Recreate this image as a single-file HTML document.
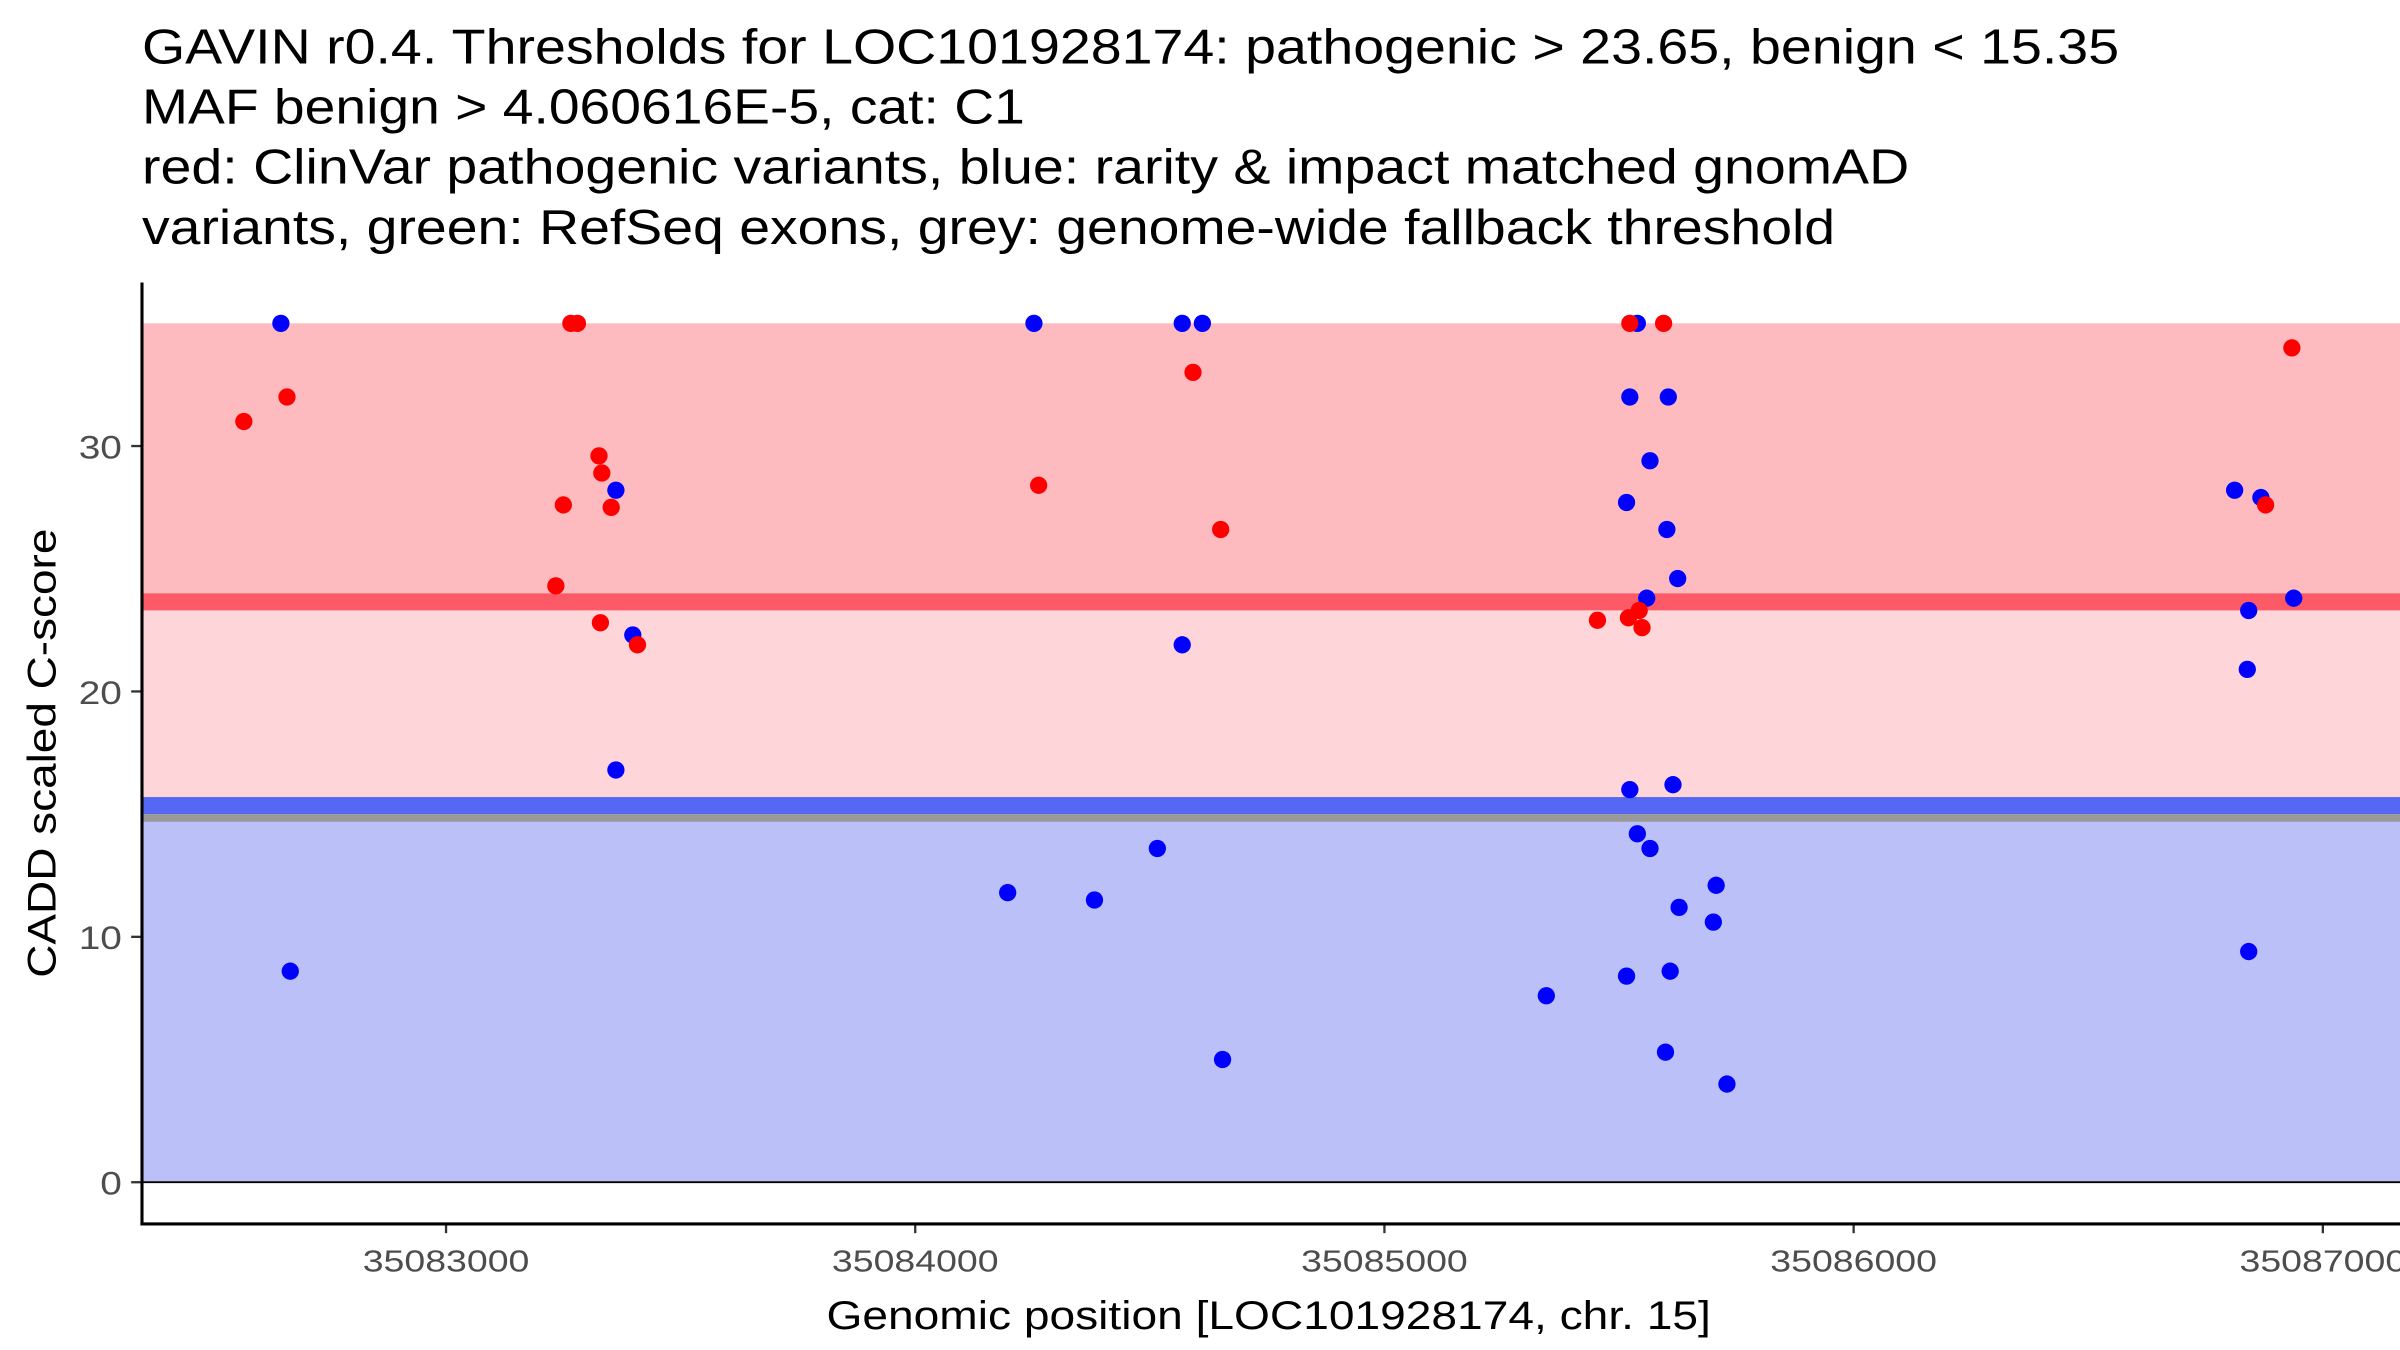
<!DOCTYPE html>
<html><head><meta charset="utf-8"><style>
html,body{margin:0;padding:0;background:#fff}
svg{display:block}
text{font-family:"Liberation Sans",Arial,sans-serif}
</style></head><body>
<svg id="chart" width="2400" height="1350" viewBox="0 0 1555 874.7" preserveAspectRatio="none" xmlns="http://www.w3.org/2000/svg">
<g font-size="32" fill="#000">
<text x="92" y="41" textLength="1281" lengthAdjust="spacingAndGlyphs">GAVIN r0.4. Thresholds for LOC101928174: pathogenic &gt; 23.65, benign &lt; 15.35</text>
<text x="92" y="80" textLength="572" lengthAdjust="spacingAndGlyphs">MAF benign &gt; 4.060616E-5, cat: C1</text>
<text x="92" y="119" textLength="1145" lengthAdjust="spacingAndGlyphs">red: ClinVar pathogenic variants, blue: rarity &amp; impact matched gnomAD</text>
<text x="92" y="158" textLength="1097" lengthAdjust="spacingAndGlyphs">variants, green: RefSeq exons, grey: genome-wide fallback threshold</text>
</g>
<g id="bands"></g>
<g id="xticks"></g>
<g id="yticks"></g>
<g id="points"></g>
<line x1="92" y1="183" x2="92" y2="794" stroke="#000" stroke-width="2"/>
<line x1="91" y1="793" x2="1555" y2="793" stroke="#000" stroke-width="2"/>
<text x="822" y="861" font-size="26" text-anchor="middle" textLength="573" lengthAdjust="spacingAndGlyphs">Genomic position [LOC101928174, chr. 15]</text>
<text transform="translate(36,488) rotate(-90)" font-size="26" text-anchor="middle" textLength="291" lengthAdjust="spacingAndGlyphs">CADD scaled C-score</text>
</svg>
<script>
const xTicks = [35083000, 35084000, 35085000, 35086000, 35087000];
const yTicks = [0, 10, 20, 30];
const pathoThreshold = 23.65;
const benignThreshold = 15.35;
const fallbackThreshold = 14.9;
const bandTop = 35;
const bluePos = [35082648,35082668,35083362,35083398,35083362,35084253,35084197,35084382,35084516,35084569,35084612,35084569,35084655,35085345,35085516,35085523,35085539,35085566,35085605,35085602,35085625,35085559,35085523,35085615,35085539,35085566,35085707,35085628,35085701,35085516,35085609,35085599,35085730,35086842,35086812,35086868,35086842,35086839,35086938];
const blueScore = [35,8.6,28.2,22.3,16.8,35,11.8,11.5,13.6,35,35,21.9,5.0,7.6,27.7,32,35,29.4,32,26.6,24.6,23.8,16.0,16.2,14.2,13.6,12.1,11.2,10.6,8.4,8.6,5.3,4.0,9.4,28.2,27.9,23.3,20.9,23.8];
const redPos = [35082569,35082661,35083266,35083280,35083326,35083332,35083250,35083352,35083234,35083329,35083408,35084263,35084592,35084651,35085523,35085595,35085454,35085520,35085543,35085549,35086878,35086934];
const redScore = [31,32,35,35,29.6,28.9,27.6,27.5,24.3,22.8,21.9,28.4,33,26.6,35,35,22.9,23.0,23.3,22.6,27.6,34];

const NS='http://www.w3.org/2000/svg';
const xs = v => 289 + (v - 35083000) * 0.304;
const ys = v => 766 - v * 15.9;
function mk(tag, attrs, parent){const e=document.createElementNS(NS,tag);for(const k in attrs)e.setAttribute(k,attrs[k]);parent.appendChild(e);return e;}
const L=92, R=1555;
const bands=document.getElementById('bands');
let r;
r=mk('rect',{x:L,y:ys(bandTop),width:R-L,height:ys(pathoThreshold)-ys(bandTop),fill:'#fdbbbf'},bands);


r=mk('rect',{x:L,y:ys(pathoThreshold),width:R-L,height:ys(benignThreshold)-ys(pathoThreshold),fill:'#fed6da'},bands);


r=mk('rect',{x:L,y:ys(fallbackThreshold),width:R-L,height:ys(0)-ys(fallbackThreshold),fill:'#bbc0f9'},bands);


r=mk('rect',{x:L,y:ys(pathoThreshold)-5.5,width:R-L,height:11,fill:'#fc5a66'},bands);


r=mk('rect',{x:L,y:ys(benignThreshold)-5.5,width:R-L,height:11,fill:'#5468f3'},bands);


r=mk('rect',{x:L,y:ys(benignThreshold)+5.5,width:R-L,height:5,fill:'#999999'},bands);


r=mk('line',{x1:L,y1:ys(0),x2:R,y2:ys(0),stroke:'#000','stroke-width':1.2},bands);



const xt=document.getElementById('xticks');
xTicks.forEach(v=>{
  const t=mk('line',{x1:xs(v),y1:794,x2:xs(v),y2:799,stroke:'#333','stroke-width':1.5},xt);
  
  
  const l=mk('text',{x:xs(v),y:824,'font-size':20,fill:'#4d4d4d','text-anchor':'middle',textLength:108,lengthAdjust:'spacingAndGlyphs'},xt);
  l.textContent=v;
  
  
});
const yt=document.getElementById('yticks');
yTicks.forEach(v=>{
  const s=String(v);
  const l=mk('text',{x:79,y:ys(v)+8,'font-size':21,fill:'#4d4d4d','text-anchor':'end',textLength:14*s.length,lengthAdjust:'spacingAndGlyphs'},yt);
  l.textContent=s;
  
  
  const t=mk('line',{x1:85,y1:ys(v),x2:92,y2:ys(v),stroke:'#333','stroke-width':1.5},yt);
  
  
});
const pts=document.getElementById('points');
bluePos.forEach((p,i)=>{
  const c=mk('circle',{cx:xs(p),cy:ys(blueScore[i]),r:5.6,fill:'#0000ff'},pts);
  
  
});
redPos.forEach((p,i)=>{
  const c=mk('circle',{cx:xs(p),cy:ys(redScore[i]),r:5.6,fill:'#ff0000'},pts);
  
  
});
</script>
</body></html>
